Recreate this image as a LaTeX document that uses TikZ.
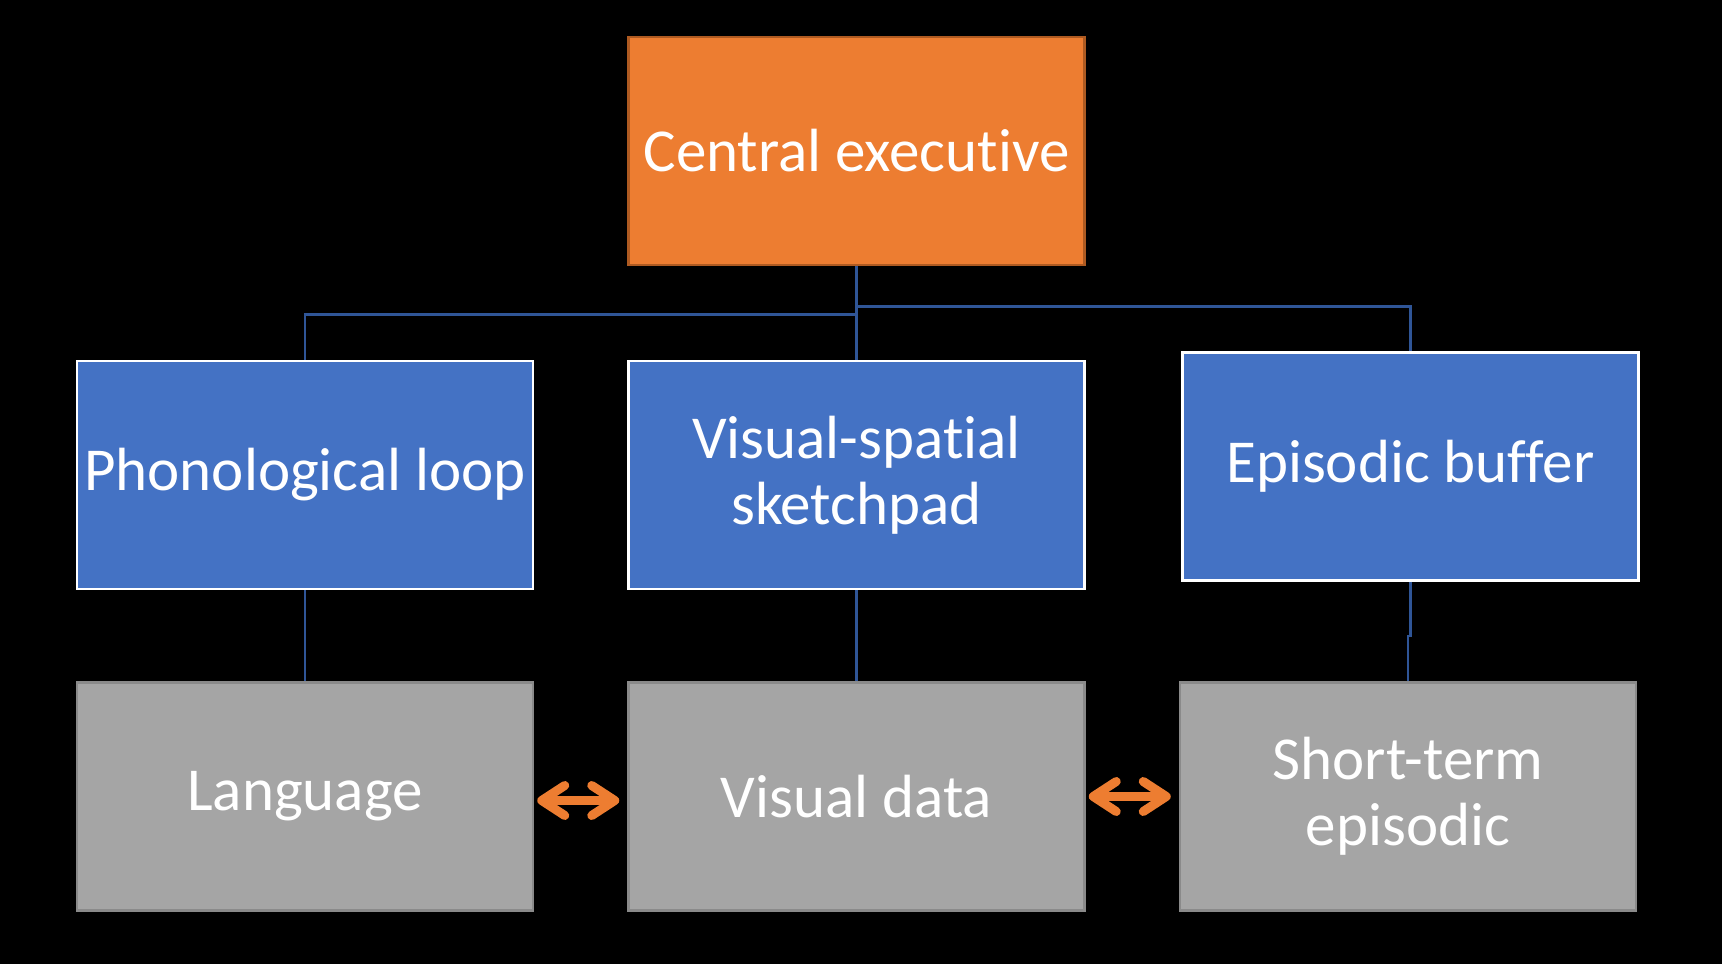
\documentclass[tikz,border=0pt]{standalone}
\usepackage{fontspec}
\setmainfont[RawFeature=-liga]{Carlito}
\usetikzlibrary{arrows.meta}
\definecolor{ceorange}{HTML}{ED7D31}
\definecolor{ceborder}{HTML}{AE5A21}
\definecolor{boxblue}{HTML}{4472C4}
\definecolor{boxgray}{HTML}{A5A5A5}
\definecolor{grayborder}{HTML}{8A8A8A}
\definecolor{connblue}{HTML}{2F5597}
\begin{document}
\begin{tikzpicture}[x=1pt,y=-1pt,
  box/.style={rectangle, minimum width=456pt, minimum height=228pt, inner sep=0pt,
    text=white, align=center, font=\fontsize{61}{66}\selectfont, line width=2.5pt},
  orangebox/.style={box, fill=ceorange, draw=ceborder},
  bluebox/.style={box, fill=boxblue, draw=white},
  graybox/.style={box, fill=boxgray, draw=grayborder},
  conn/.style={draw=connblue, line width=2.5pt},
  dbl/.style={draw=ceorange, line width=9pt, line cap=round,
    {Straight Barb[length=23pt,width=30pt,round]}-{Straight Barb[length=23pt,width=30pt,round]}}
]
\fill[black] (0,0) rectangle (1722,964);
\useasboundingbox (0,0) rectangle (1722,964);

\node[orangebox] (ce) at (856.5,151) {Central executive};
\node[bluebox] (pl) at (305,475) {Phonological loop};
\node[bluebox] (vs) at (856.5,475) {Visual-spatial\\sketchpad};
\node[bluebox] (eb) at (1410.5,466.5) {Episodic buffer};
\node[graybox] (lang) at (305,796.5) {Language};
\node[graybox] (vd) at (856.5,796.5) {Visual data};
\node[graybox] (ste) at (1408,796.5) {Short-term\\episodic};

\draw[conn] (ce.south) -- (vs.north);
\draw[conn] (ce.south) -- ++(0,48) -| (pl.north);
\draw[conn] (ce.south) -- ++(0,40) -| (eb.north);
\draw[conn] (pl.south) -- (lang.north);
\draw[conn] (vs.south) -- (vd.north);
\draw[conn] (eb.south) -- ++(0,54) -| (ste.north);

\draw[dbl] ([xshift=3pt,yshift=-4pt]lang.east) -- ([xshift=-8pt,yshift=-4pt]vd.west);
\draw[dbl] ([xshift=3pt]vd.east) -- ([xshift=-8pt]ste.west);
\end{tikzpicture}
\end{document}
